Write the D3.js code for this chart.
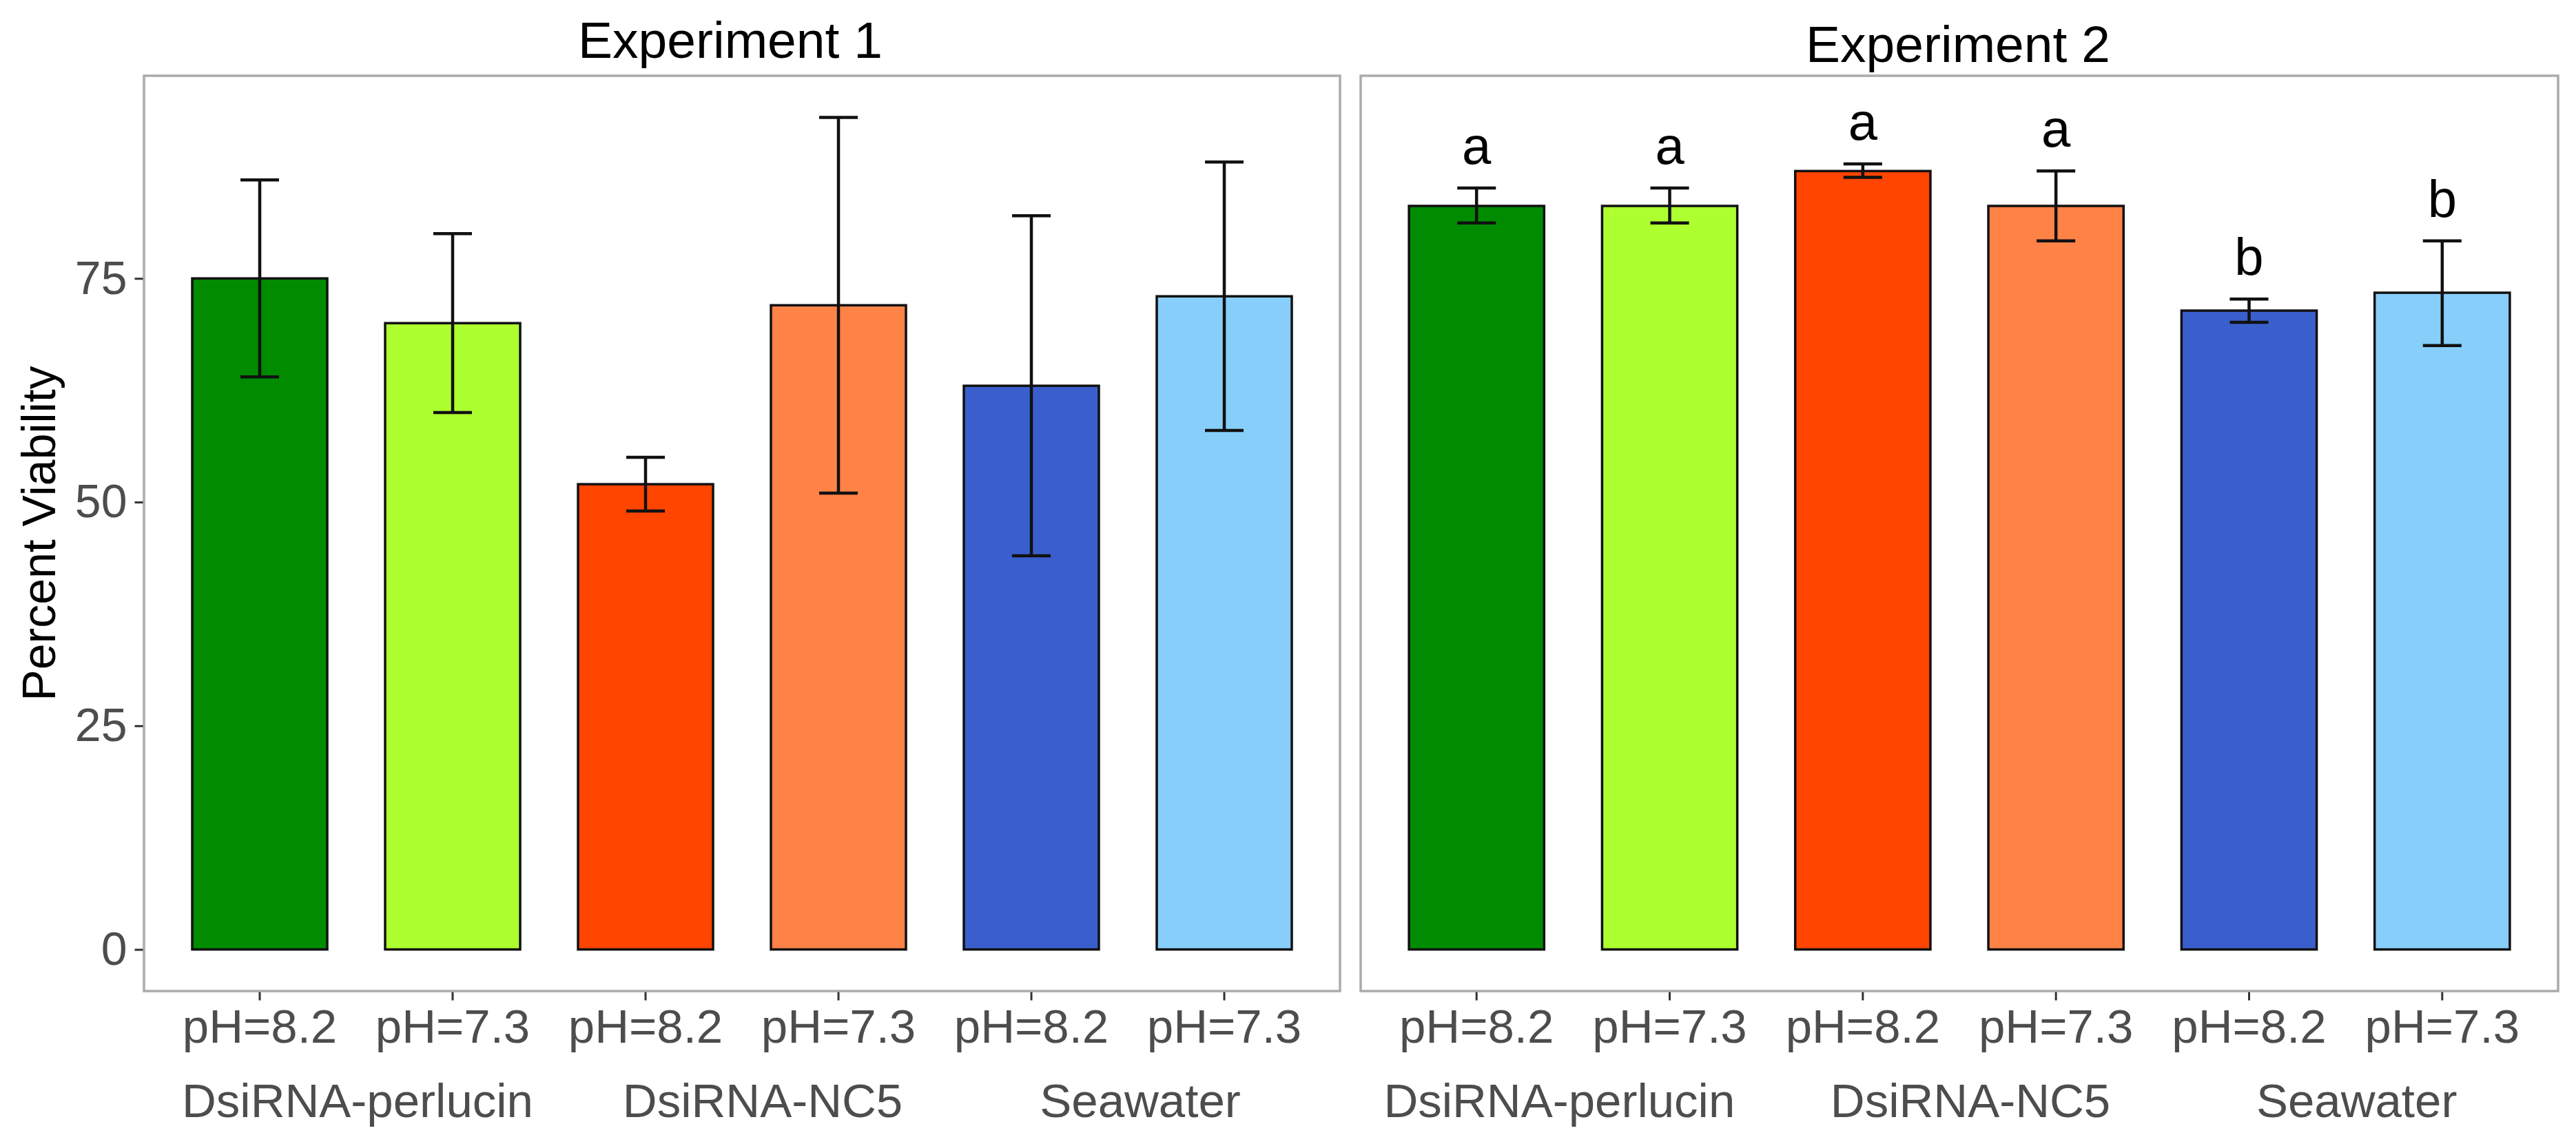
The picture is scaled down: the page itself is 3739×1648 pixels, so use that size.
<!DOCTYPE html>
<html>
<head>
<meta charset="utf-8">
<script src="https://cdn.jsdelivr.net/npm/d3@7"></script>
<style>
  html, body { margin: 0; padding: 0; background: #ffffff; }
  svg { display: block; }
  text { font-family: "Liberation Sans", Arial, Helvetica, sans-serif; }
</style>
</head>
<body>
<script>
// ---------------- DATA ----------------
const categories = ["perlucin_8.2", "perlucin_7.3", "NC5_8.2", "NC5_7.3", "sea_8.2", "sea_7.3"];
const tickLabels = ["pH=8.2", "pH=7.3", "pH=8.2", "pH=7.3", "pH=8.2", "pH=7.3"];
const groupLabels = ["DsiRNA-perlucin", "DsiRNA-NC5", "Seawater"];
const barColors = ["#008B00", "#ADFF2F", "#FF4500", "#FF8247", "#3A5FCD", "#87CEFA"];
const panelTitles = ["Experiment 1", "Experiment 2"];
const yTicks = [0, 25, 50, 75];
const yTitle = "Percent Viability";

const exp1Mean  = [75, 70, 52, 72, 63, 73];
const exp1Lower = [64, 60, 49, 51, 44, 58];
const exp1Upper = [86, 80, 55, 93, 82, 88];

const exp2Mean  = [83.1, 83.1, 87.0, 83.1, 71.4, 73.4];
const exp2Lower = [81.2, 81.2, 86.3, 79.2, 70.1, 67.5];
const exp2Upper = [85.1, 85.1, 87.8, 87.0, 72.7, 79.2];
const exp2Letters = ["a", "a", "a", "a", "b", "b"];

// ---------------- LAYOUT ----------------
const W = 3739, H = 1648;
const panelTop = 110, panelBottom = 1439;
const panels = [
  { left: 209, right: 1945, title: panelTitles[0], titleX: 1060, titleY: 84,
    mean: exp1Mean, lo: exp1Lower, hi: exp1Upper, letters: null, showY: true,
    groupNudge: [2, 30, 18] },
  { left: 1975, right: 3713, title: panelTitles[1], titleX: 2842, titleY: 90,
    mean: exp2Mean, lo: exp2Lower, hi: exp2Upper, letters: exp2Letters, showY: false,
    groupNudge: [-20, 16, 16] }
];

const svg = d3.select("body").append("svg")
  .attr("width", W).attr("height", H)
  .attr("viewBox", `0 0 ${W} ${H}`);

svg.append("rect").attr("width", W).attr("height", H).attr("fill", "#ffffff");

const y = d3.scaleLinear().domain([-4.65, 97.65]).range([panelBottom, panelTop]);

panels.forEach((p, pi) => {
  const x = d3.scaleBand()
    .domain(categories)
    .range([p.left, p.right])
    .paddingInner(0.3)
    .paddingOuter(0.25)
    .align(0.5);
  const step = x.step();
  const bw = x.bandwidth();
  const cx = c => x(c) + bw / 2;

  const g = svg.append("g");

  // panel background
  g.append("rect")
    .attr("x", p.left).attr("y", panelTop)
    .attr("width", p.right - p.left).attr("height", panelBottom - panelTop)
    .attr("fill", "#ffffff");

  // bars
  g.selectAll("rect.bar").data(categories).enter().append("rect")
    .attr("class", "bar")
    .attr("x", c => x(c))
    .attr("width", bw)
    .attr("y", (c, i) => y(p.mean[i]))
    .attr("height", (c, i) => y(0) - y(p.mean[i]))
    .attr("fill", (c, i) => barColors[i])
    .attr("stroke", "#111111")
    .attr("stroke-width", 3.5);

  // error bars
  const capW = step * 0.2;
  const eb = g.selectAll("g.eb").data(categories).enter().append("g").attr("class", "eb")
    .attr("stroke", "#111111").attr("stroke-width", 4.5);
  eb.append("line")
    .attr("x1", c => cx(c)).attr("x2", c => cx(c))
    .attr("y1", (c, i) => y(p.lo[i])).attr("y2", (c, i) => y(p.hi[i]));
  eb.append("line")
    .attr("x1", c => cx(c) - capW / 2).attr("x2", c => cx(c) + capW / 2)
    .attr("y1", (c, i) => y(p.hi[i])).attr("y2", (c, i) => y(p.hi[i]));
  eb.append("line")
    .attr("x1", c => cx(c) - capW / 2).attr("x2", c => cx(c) + capW / 2)
    .attr("y1", (c, i) => y(p.lo[i])).attr("y2", (c, i) => y(p.lo[i]));

  // significance letters
  if (p.letters) {
    g.selectAll("text.sig").data(categories).enter().append("text")
      .attr("class", "sig")
      .attr("x", c => cx(c))
      .attr("y", (c, i) => y(p.hi[i]) - 35)
      .attr("text-anchor", "middle")
      .attr("font-size", 76)
      .attr("fill", "#000000")
      .text((c, i) => p.letters[i]);
  }

  // panel border
  g.append("rect")
    .attr("x", p.left).attr("y", panelTop)
    .attr("width", p.right - p.left).attr("height", panelBottom - panelTop)
    .attr("fill", "none")
    .attr("stroke", "#ababab")
    .attr("stroke-width", 3.5);

  // x axis
  const xAxis = d3.axisBottom(x)
    .tickSize(12).tickPadding(13)
    .tickFormat((c, i) => tickLabels[i]);
  const xg = svg.append("g")
    .attr("transform", `translate(0,${panelBottom + 1.5})`)
    .call(xAxis);
  xg.select(".domain").remove();
  xg.selectAll(".tick line").attr("stroke", "#333333").attr("stroke-width", 3);
  xg.selectAll(".tick text")
    .attr("font-size", 69)
    .attr("fill", "#4d4d4d")
    .attr("font-family", "'Liberation Sans', Arial, sans-serif");

  // group labels
  groupLabels.forEach((gl, gi) => {
    const mid = (cx(categories[gi * 2]) + cx(categories[gi * 2 + 1])) / 2 + p.groupNudge[gi];
    svg.append("text")
      .attr("x", mid).attr("y", 1622)
      .attr("text-anchor", "middle")
      .attr("font-size", 69)
      .attr("fill", "#4d4d4d")
      .text(gl);
  });

  // y axis
  if (p.showY) {
    const yAxis = d3.axisLeft(y).tickValues(yTicks).tickSize(12).tickPadding(11)
      .tickFormat(d3.format("d"));
    const yg = svg.append("g")
      .attr("transform", `translate(${p.left - 1.5},0)`)
      .call(yAxis);
    yg.select(".domain").remove();
    yg.selectAll(".tick line").attr("stroke", "#333333").attr("stroke-width", 3);
    yg.selectAll(".tick text")
      .attr("font-size", 68)
      .attr("fill", "#4d4d4d")
      .attr("font-family", "'Liberation Sans', Arial, sans-serif");
  }

  // panel title
  svg.append("text")
    .attr("x", p.titleX).attr("y", p.titleY)
    .attr("text-anchor", "middle")
    .attr("font-size", 75)
    .attr("fill", "#000000")
    .text(p.title);
});

// y axis title
svg.append("text")
  .attr("transform", `translate(80,${(panelTop + panelBottom) / 2}) rotate(-90)`)
  .attr("text-anchor", "middle")
  .attr("font-size", 68)
  .attr("fill", "#000000")
  .text(yTitle);
</script>
</body>
</html>
